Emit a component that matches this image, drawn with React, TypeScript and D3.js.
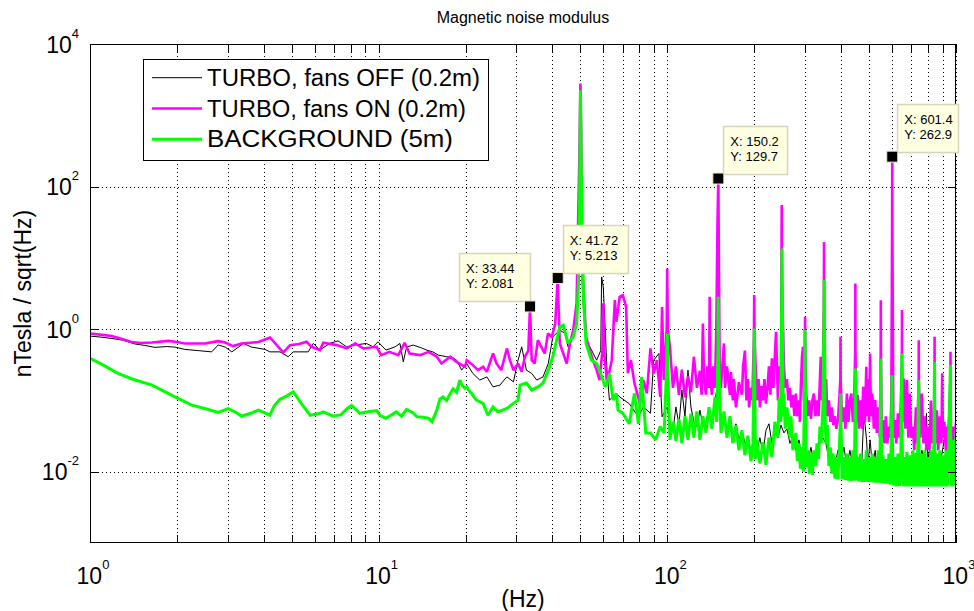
import React from "react";
import * as d3 from "d3";

// ---------- DATA ----------
const xMajorTicks = [1, 10, 100, 1000];
const xTickExponents = ["0", "1", "2", "3"];
const yMajorTicks = [1e-2, 1, 1e2, 1e4];
const yTickExponents = ["-2", "0", "2", "4"];

const seriesNames = ["TURBO, fans OFF (0.2m)", "TURBO, fans ON (0.2m)", "BACKGROUND (5m)"];
const seriesColors = ["#000000", "#ff00ff", "#00ff00"];

const offData: [number, number][] = [
  [1.0, 0.80], [1.1, 0.77], [1.19, 0.74], [1.3, 0.70], [1.43, 0.62], [1.55, 0.59], [1.68, 0.555],
  [1.85, 0.57], [1.97, 0.56], [2.13, 0.52], [2.37, 0.50], [2.64, 0.48], [2.78, 0.60], [2.94, 0.56],
  [3.10, 0.48], [3.25, 0.55], [3.40, 0.63], [3.63, 0.56], [4.04, 0.52], [4.2, 0.48], [4.55, 0.48],
  [4.86, 0.41], [5.06, 0.48], [5.33, 0.48], [5.70, 0.48], [5.94, 0.63], [6.26, 0.51], [6.77, 0.63],
  [7.23, 0.685], [7.74, 0.565], [8.3, 0.60], [9.07, 0.63], [9.56, 0.565], [9.95, 0.664], [10.6, 0.508],
  [11.4, 0.565], [11.85, 0.63], [12.17, 0.348], [12.5, 0.565], [13.18, 0.597], [14.0, 0.55], [14.67, 0.508],
  [15.4, 0.48], [16.1, 0.432], [17.2, 0.41], [18.0, 0.40], [18.63, 0.367], [19.39, 0.266], [20.17, 0.33],
  [21.2, 0.239], [22.4, 0.193], [23.7, 0.214], [24.9, 0.155], [26.3, 0.164], [27.8, 0.214], [29.3, 0.182],
  [30.4, 0.367], [31.3, 0.565], [32.5, 0.266], [33.9, 0.239], [35.3, 0.193], [37.1, 0.214], [38.7, 0.33],
  [40.1, 0.78], [42.4, 0.97], [44.2, 0.87], [45.3, 0.565], [46.6, 0.70], [47.9, 0.97], [49.2, 3.0],
  [50.0, 300], [50.8, 3.0], [52.3, 0.7], [53.9, 0.565], [56.9, 0.367], [58.8, 0.5], [59.2, 5.4], [60.0, 3.9],
  [60.8, 1.2], [61.8, 0.266], [63.0, 0.101], [66.6, 0.125], [68.4, 0.112], [73.8, 0.09], [79.4, 0.059],
  [82.6, 0.081], [87.4, 0.066], [89.7, 0.367], [93.5, 0.456], [95.9, 0.059], [99.9, 0.081],
  [102.1, 0.05], [104.6, 0.038], [107.1, 0.081], [109.7, 0.045], [112.3, 0.14], [115.1, 0.059],
  [117.9, 0.266], [120.7, 0.081], [123.6, 0.05], [126.6, 0.043], [129.7, 0.073], [132.8, 0.045],
  [136.1, 0.047], [139.4, 0.08], [142.7, 0.05], [146.2, 0.101], [149.7, 0.173], [153.4, 0.06],
  [157.1, 0.059], [160.9, 0.035], [164.8, 0.043], [168.7, 0.03], [172.9, 0.047], [177.0, 0.028],
  [181.3, 0.038], [185.7, 0.025], [190.2, 0.028], [194.8, 0.02], [199.5, 0.028], [204.3, 0.02],
  [209.3, 0.03], [214.4, 0.018], [219.6, 0.038], [224.9, 0.047], [230.3, 0.025], [235.9, 0.035],
  [241.6, 0.03], [247.5, 0.045], [253.5, 0.035], [259.6, 0.04], [265.9, 0.025], [272.3, 0.031],
  [278.9, 0.02], [285.7, 0.028], [292.6, 0.015], [299.7, 0.028], [306.9, 0.014], [314.4, 0.022],
  [322.0, 0.013], [329.8, 0.02], [337.8, 0.025], [345.9, 0.03], [354.3, 0.025], [362.9, 0.015],
  [371.7, 0.018], [380.6, 0.012], [389.9, 0.02], [399.3, 0.014], [409.0, 0.022], [418.9, 0.012],
  [429.0, 0.02], [439.4, 0.012], [450, 0.02], [460.9, 0.011], [472.1, 0.0146], [479, 0.06], [480, 0.155],
  [481, 0.06], [490, 0.028], [495.2, 0.012], [504, 0.028], [513, 0.012], [525, 0.02], [532, 0.011],
  [544.9, 0.018], [559, 0.0146], [571.6, 0.01], [582, 0.0106], [592, 0.015], [614.3, 0.012],
  [629.2, 0.016], [644.4, 0.011], [660, 0.0146], [674, 0.012], [692.3, 0.016], [709.1, 0.011],
  [726.3, 0.018], [742.5, 0.012], [761.9, 0.02], [780.3, 0.012], [790, 0.066], [799.2, 0.015],
  [810, 0.020], [828, 0.011], [848, 0.02], [868, 0.011], [890, 0.016], [914, 0.031], [933, 0.012],
  [960, 0.018], [975, 0.01], [1000, 0.02],
];

const onData: [number, number][] = [
  [1.0, 0.87], [1.1, 0.83], [1.19, 0.80], [1.3, 0.72], [1.39, 0.66], [1.5, 0.64], [1.64, 0.65],
  [1.87, 0.685], [2.0, 0.66], [2.13, 0.63], [2.5, 0.63], [2.78, 0.678], [2.94, 0.65], [3.13, 0.578],
  [3.35, 0.63], [3.83, 0.66], [3.98, 0.70], [4.2, 0.765], [4.4, 0.62], [4.67, 0.47], [4.93, 0.597],
  [5.3, 0.62], [5.63, 0.664], [5.85, 0.565], [6.26, 0.51], [6.43, 0.643], [7.16, 0.597], [7.75, 0.536],
  [8.30, 0.63], [8.84, 0.536], [9.84, 0.565], [10.2, 0.432], [10.9, 0.48], [11.7, 0.432], [12.3, 0.643],
  [12.8, 0.456], [13.9, 0.432], [14.9, 0.48], [15.9, 0.41], [16.5, 0.33], [17.7, 0.41], [18.6, 0.348],
  [19.9, 0.296], [20.2, 0.367], [21.2, 0.313], [22.1, 0.266], [23.0, 0.296], [23.7, 0.252], [24.9, 0.456],
  [25.6, 0.33], [26.6, 0.266], [27.8, 0.536], [28.5, 0.367], [29.3, 0.266], [30.4, 0.33], [31.3, 0.252],
  [32.1, 0.41], [33.0, 0.5], [33.44, 2.081], [33.9, 0.367], [34.7, 0.33], [35.6, 0.70], [36.6, 0.565],
  [37.6, 0.456], [38.6, 0.87], [39.8, 0.78], [40.9, 1.2], [41.72, 5.213], [42.4, 0.63], [43.6, 0.456],
  [44.8, 0.33], [46.0, 0.63], [47.2, 0.97], [48.5, 2.3], [49.1, 33.8], [49.6, 300], [50.0, 2800],
  [50.3, 600], [50.6, 30], [51.0, 5], [52.3, 0.78], [53.9, 0.508], [55.2, 0.367], [56.9, 0.266],
  [58.2, 0.193], [59.6, 0.5], [60.0, 2.3], [60.4, 0.5], [61.8, 0.175], [64.2, 0.367], [65.8, 2.55],
  [66.6, 1.27], [68.4, 2.84], [70.1, 3.0], [72.0, 2.05], [73.0, 0.24], [74.8, 0.367], [76.9, 0.175],
  [80.3, 0.0908], [82.6, 0.193], [84.9, 0.125], [87.4, 0.536], [89.7, 0.24], [92.0, 0.367], [94.5, 0.112],
  [95.9, 2.05], [97.2, 0.193], [99.5, 1.0], [99.9, 7.1], [100.4, 1.0], [102.1, 0.56], [104.6, 0.15],
  [107.1, 0.3], [109.7, 0.12], [112.3, 0.27], [115.1, 0.11], [117.9, 0.22], [120.7, 0.13], [123.6, 0.41],
  [126.6, 0.15], [129.7, 0.26], [131.5, 0.12], [132.8, 1.2], [134, 0.2], [136.1, 0.12], [137.5, 0.3],
  [139.4, 0.15], [140.2, 2.84], [141, 0.2], [142.7, 0.12], [144, 0.3], [146.2, 0.15], [147.8, 1.0],
  [149.2, 30], [150.2, 129.7], [151, 5], [151.8, 0.3], [153.4, 0.15], [155, 0.3], [157.1, 0.63],
  [158.5, 0.15], [160.9, 0.3], [164.8, 0.12], [166, 0.25], [168.7, 0.1], [170, 0.2], [172.9, 0.08],
  [177.0, 0.18], [181.3, 0.12], [183, 0.3], [185.7, 0.5], [188, 0.1], [190.2, 0.2], [192, 0.08],
  [194.8, 0.15], [197, 0.1], [199.5, 0.8], [200, 3.0], [200.5, 0.8], [204.3, 0.1], [207, 0.2],
  [209.3, 0.08], [212, 0.16], [214.4, 0.1], [217, 0.2], [219.6, 0.09], [222, 0.14], [224.9, 0.3],
  [227.5, 0.12], [230.3, 0.39], [233, 0.15], [238, 0.92], [241.6, 0.1], [244, 0.3], [247.5, 0.2],
  [248.5, 5], [249, 55], [249.5, 5], [253.5, 0.3], [256.5, 0.15], [259.6, 0.2], [262.5, 0.1],
  [265.9, 0.15], [269, 0.08], [272.3, 0.12], [275.5, 0.06], [278.9, 0.125], [282, 0.06], [285.7, 0.1],
  [288, 0.05], [290, 0.15], [292.6, 0.4], [295, 0.565], [297, 0.1], [299.5, 0.5], [300, 1.49],
  [300.5, 0.5], [303, 0.12], [306.9, 0.06], [310, 0.1], [314.4, 0.055], [318, 0.1], [322.0, 0.125],
  [326, 0.06], [329.8, 0.1], [334, 0.06], [337.8, 0.2], [340, 0.41], [343, 0.1], [346, 0.3],
  [348.5, 2], [349, 16.7], [349.5, 2], [352, 0.1], [355, 0.2], [358, 0.06], [362.9, 0.1], [367, 0.05],
  [371.7, 0.08], [376, 0.045], [380.6, 0.06], [385, 0.04], [389.9, 0.053], [394, 0.1], [397.5, 0.2],
  [398, 0.78], [398.5, 0.2], [403, 0.05], [409, 0.08], [414, 0.04], [418.9, 0.125], [424, 0.05],
  [429, 0.1], [434, 0.125], [439.4, 0.05], [444, 0.1], [447.5, 0.5], [448, 4.38], [448.5, 0.5],
  [452, 0.05], [456, 0.12], [460.9, 0.04], [466, 0.1], [472.1, 0.04], [477, 0.155], [483.5, 0.05],
  [489, 0.296], [492, 0.06], [495.2, 0.2], [500, 0.05], [504, 0.456], [507.2, 0.06], [513, 0.125],
  [519.4, 0.04], [525, 0.101], [532, 0.035], [538, 0.08], [544.9, 0.03], [548.5, 0.5], [549, 2.55],
  [549.5, 0.5], [553, 0.03], [558.1, 0.053], [565, 0.025], [571.6, 0.06], [578, 0.025], [585.4, 0.043],
  [592, 0.03], [597, 0.1], [600.5, 20], [601.4, 262.9], [602.3, 20], [607, 0.03], [614.3, 0.053],
  [621, 0.025], [629.2, 0.066], [637, 0.03], [644.4, 0.1], [649.5, 0.4], [650, 1.85], [650.5, 0.4],
  [655, 0.05], [660, 0.203], [668, 0.04], [676.1, 0.193], [684, 0.03], [692.3, 0.125], [700, 0.03],
  [709.1, 0.043], [717, 0.02], [726.3, 0.08], [734, 0.025], [742.5, 0.2], [743, 0.70], [743.5, 0.2],
  [752, 0.03], [761.9, 0.125], [771, 0.025], [780.3, 0.06], [790, 0.02], [799.2, 0.043], [809, 0.02],
  [818.6, 0.1], [828, 0.025], [838.4, 0.06], [842.5, 0.2], [843, 0.78], [843.5, 0.2], [848, 0.025],
  [858.7, 0.073], [868, 0.02], [879.5, 0.06], [890, 0.025], [896, 0.24], [900.6, 0.03], [911, 0.05],
  [922.5, 0.02], [929, 0.043], [933, 0.02], [944.9, 0.05], [956.5, 0.2], [957, 0.48], [957.5, 0.2],
  [962, 0.02], [967.8, 0.043], [975, 0.02], [986, 0.043], [991.3, 0.02], [1000, 0.05],
];

const bgData: [number, number][] = [
  [1.0, 0.39], [1.1, 0.32], [1.25, 0.24], [1.4, 0.20], [1.64, 0.164], [1.8, 0.135], [1.97, 0.112],
  [2.25, 0.086], [2.5, 0.0772], [2.78, 0.068], [3.01, 0.077], [3.2, 0.068], [3.35, 0.060], [3.6, 0.066],
  [3.83, 0.073], [4.0, 0.068], [4.2, 0.062], [4.35, 0.085], [4.55, 0.104], [4.8, 0.115], [5.06, 0.132],
  [5.4, 0.09], [5.79, 0.062], [6.26, 0.066], [6.43, 0.069], [6.96, 0.060], [7.4, 0.063], [7.75, 0.076],
  [8.06, 0.085], [8.6, 0.066], [9.07, 0.069], [9.84, 0.072], [10.1, 0.062], [10.6, 0.056], [11.5, 0.069],
  [12.0, 0.06], [12.5, 0.075], [13.1, 0.068], [13.6, 0.059], [14.3, 0.058], [14.9, 0.056], [15.3, 0.050],
  [15.9, 0.073], [16.3, 0.105], [16.7, 0.112], [17.2, 0.10], [17.7, 0.125], [18.1, 0.145], [18.6, 0.13],
  [19.1, 0.193], [19.5, 0.16], [19.9, 0.148], [20.2, 0.155], [20.7, 0.132], [21.0, 0.125], [21.8, 0.101],
  [23.0, 0.091], [23.9, 0.062], [24.9, 0.081], [25.9, 0.069], [27.8, 0.077], [29.3, 0.091], [30.4, 0.101],
  [30.9, 0.164], [32.5, 0.175], [33.9, 0.14], [35.6, 0.155], [37.1, 0.175], [38.7, 0.266], [40.1, 0.41],
  [42.4, 1.08], [43.6, 1.14], [45.3, 0.63], [47.2, 0.78], [48.5, 1.2], [49.2, 4.38], [49.7, 80],
  [50.0, 2250], [50.3, 200], [50.7, 19.7], [51.3, 2.3], [52.3, 0.63], [54.6, 0.367], [56.9, 0.33],
  [58.2, 0.266], [60.9, 0.155], [62.3, 0.193], [63.0, 0.24], [64.9, 0.101], [66.6, 0.125], [67.5, 0.073],
  [70.1, 0.066], [73.8, 0.047], [76.9, 0.125], [79.4, 0.047], [81.5, 0.214], [84.2, 0.035], [87.4, 0.035],
  [91.1, 0.028], [94.5, 0.043], [97.5, 0.035], [99.5, 0.3], [100, 0.87], [100.5, 0.2], [102.1, 0.028],
  [104.6, 0.05], [107.1, 0.027], [109.7, 0.055], [112.3, 0.025], [115.1, 0.06], [117.9, 0.028],
  [120.7, 0.065], [123.6, 0.03], [126.6, 0.07], [129.7, 0.028], [132.8, 0.06], [136.1, 0.035],
  [139.4, 0.08], [142.7, 0.04], [146.2, 0.112], [148.4, 0.05], [149.7, 0.5], [150.0, 2.84], [150.4, 0.5],
  [151.5, 0.155], [153.4, 0.035], [157.1, 0.07], [160.9, 0.03], [164.8, 0.06], [168.7, 0.025],
  [172.9, 0.045], [177.0, 0.02], [181.3, 0.038], [185.7, 0.017], [190.2, 0.032], [194.8, 0.014],
  [198, 0.025], [199.5, 0.3], [200, 1.02], [200.5, 0.3], [202, 0.015], [204.3, 0.028], [209.3, 0.013],
  [214.4, 0.026], [219.6, 0.0125], [224.9, 0.03], [230.3, 0.016], [235.9, 0.05], [241.6, 0.03],
  [244, 0.11], [247.5, 0.05], [249, 3], [249.6, 13.5], [250.3, 3], [252, 0.06], [253.5, 0.125],
  [256, 0.04], [259.6, 0.08], [265.9, 0.03], [268, 0.06], [272.3, 0.02], [278.9, 0.035], [282, 0.014],
  [285.7, 0.025], [289, 0.011], [292.6, 0.022], [296, 0.01], [299.2, 0.3], [299.7, 0.97], [300.3, 0.3],
  [303, 0.0117], [306.9, 0.02], [310, 0.0094], [314.4, 0.018], [318, 0.009], [322.0, 0.02], [326, 0.012],
  [329.8, 0.025], [334, 0.015], [337.8, 0.043], [341, 0.025], [345.9, 0.08], [348.5, 1], [349.5, 4.87],
  [350.5, 1], [352, 0.06], [354.3, 0.025], [358, 0.045], [362.9, 0.012], [367, 0.022], [371.7, 0.0094],
  [375, 0.018], [380.6, 0.008], [385, 0.016], [389.9, 0.0078], [394, 0.02], [397.5, 0.05], [398.5, 0.125],
  [399.5, 0.05], [403, 0.0078], [409.0, 0.016], [414, 0.0076], [418.9, 0.018], [424, 0.0075],
  [429.0, 0.016], [434, 0.0074], [439.4, 0.02], [444, 0.0075], [447.5, 0.08], [448.5, 0.28], [449.5, 0.08],
  [452, 0.0076], [456, 0.016], [460.9, 0.0073], [466, 0.018], [472.1, 0.0072], [477, 0.015],
  [483.5, 0.0072], [489, 0.02], [495.2, 0.0072], [500, 0.016], [507.2, 0.0072], [513, 0.018],
  [519.4, 0.007], [525, 0.016], [532.0, 0.007], [538, 0.02], [544.9, 0.007], [548.5, 0.388], [549.5, 0.1],
  [553, 0.0069], [558.1, 0.017], [565, 0.0068], [571.6, 0.015], [578, 0.0068], [585.4, 0.018],
  [592, 0.0066], [597, 0.03], [600.5, 0.226], [602, 0.03], [607, 0.0064], [614.3, 0.016], [621, 0.0062],
  [629.2, 0.018], [637, 0.0063], [644.4, 0.02], [649.5, 0.456], [651, 0.03], [655, 0.0063], [660.0, 0.016],
  [668, 0.0062], [676.1, 0.019], [684, 0.0062], [692.3, 0.017], [700, 0.0062], [709.1, 0.02], [717, 0.0062],
  [726.3, 0.018], [734, 0.0062], [742.5, 0.193], [744.5, 0.02], [752, 0.0062], [761.9, 0.018],
  [771, 0.0062], [780.3, 0.02], [790, 0.0062], [799.2, 0.016], [809, 0.0062], [818.6, 0.02], [828, 0.0062],
  [838.4, 0.025], [842.5, 0.348], [844, 0.025], [848, 0.0062], [858.7, 0.018], [868, 0.0062],
  [879.5, 0.02], [890, 0.0062], [900.6, 0.017], [911, 0.0062], [922.5, 0.02], [933, 0.0062],
  [944.9, 0.03], [956.5, 0.313], [958, 0.02], [962, 0.0062], [967.8, 0.025], [975, 0.0062], [982, 0.028],
  [991.3, 0.0065], [1000, 0.035],
];

const tipX = [33.44, 41.72, 150.2, 601.4];
const tipY = [2.081, 5.213, 129.7, 262.9];
const tipXLabels = ["33.44", "41.72", "150.2", "601.4"];
const tipYLabels = ["2.081", "5.213", "129.7", "262.9"];
const tipSide = ["left", "right", "right", "right"];

// ---------- LAYOUT / STYLE ----------
const W = 974;
const H = 611;
const L = 90, R = 956, T = 44, B = 543;
const FONT = "'Liberation Sans', Arial, Helvetica, sans-serif";
const tipBoxWidths = [71, 65, 64, 61];

export default function App() {
  const x = d3.scaleLog().domain([1, 1000]).range([L, R]);
  const y = d3.scaleLog().domain([1e-3, 1e4]).range([B, T]);
  const line = d3
    .line<[number, number]>()
    .x((d) => x(d[0]))
    .y((d) => y(d[1]));

  const xMinor: number[] = [];
  xMajorTicks.slice(0, -1).forEach((m) => {
    for (let k = 2; k <= 9; k++) xMinor.push(m * k);
  });
  const xAll = [...xMajorTicks, ...xMinor];
  const tick = 8;

  const series = [offData, onData, bgData];
  const widths = [1, 2.6, 3];

  return (
    <svg
      width={W}
      height={H}
      style={{ position: "absolute", left: 0, top: 0, background: "#fff" }}
      fontFamily={FONT}
    >
      <rect x={0} y={0} width={W} height={H} fill="#fff" />
      <defs>
        <clipPath id="plotclip">
          <rect x={L} y={T} width={R - L} height={B - T} />
        </clipPath>
      </defs>

      {/* grid */}
      <g stroke="#000" strokeWidth={1} strokeDasharray="1 3" fill="none">
        {xAll.map((v, i) => (
          <line key={"gx" + i} x1={Math.round(x(v)) + 0.5} x2={Math.round(x(v)) + 0.5} y1={T} y2={B} />
        ))}
        {yMajorTicks.map((v, i) => (
          <line key={"gy" + i} x1={L} x2={R} y1={Math.round(y(v)) + 0.5} y2={Math.round(y(v)) + 0.5} />
        ))}
      </g>

      {/* series */}
      <g clipPath="url(#plotclip)" fill="none" strokeLinejoin="miter" strokeMiterlimit={2}>
        {series.map((s, i) => (
          <path key={"s" + i} d={line(s) || ""} stroke={seriesColors[i]} strokeWidth={widths[i]} />
        ))}
      </g>

      {/* axes box and ticks */}
      <g stroke="#000" strokeWidth={1}>
        <rect x={L + 0.5} y={T + 0.5} width={R - L - 1} height={B - T - 1} fill="none" />
        {xAll.map((v, i) => {
          const px = Math.round(x(v)) + 0.5;
          return (
            <g key={"tx" + i}>
              <line x1={px} x2={px} y1={B} y2={B - tick} />
              <line x1={px} x2={px} y1={T} y2={T + tick} />
            </g>
          );
        })}
        {yMajorTicks.map((v, i) => {
          const py = Math.round(y(v)) + 0.5;
          return (
            <g key={"ty" + i}>
              <line x1={L} x2={L + tick} y1={py} y2={py} />
              <line x1={R} x2={R - tick} y1={py} y2={py} />
            </g>
          );
        })}
      </g>

      {/* tick labels */}
      <g fill="#000">
        {yMajorTicks.map((v, i) => (
          <text key={"yl" + i} x={79} y={y(v) + 8.5} textAnchor="end" fontSize={23}>
            10
            <tspan fontSize={13} dy={-15}>{yTickExponents[i]}</tspan>
          </text>
        ))}
        {xMajorTicks.map((v, i) => (
          <text key={"xl" + i} x={x(v) + 3} y={584} textAnchor="middle" fontSize={23}>
            10
            <tspan fontSize={13} dy={-15}>{xTickExponents[i]}</tspan>
          </text>
        ))}
      </g>

      {/* titles */}
      <text x={(L + R) / 2} y={23} textAnchor="middle" fontSize={16}>
        Magnetic noise modulus
      </text>
      <text x={(L + R) / 2} y={607} textAnchor="middle" fontSize={23}>
        (Hz)
      </text>
      <text
        transform={`translate(31, ${(T + B) / 2}) rotate(-90)`}
        textAnchor="middle"
        fontSize={23}
      >
        nTesla / sqrt(Hz)
      </text>

      {/* legend */}
      <g>
        <rect x={143.5} y={59.5} width={345} height={101} fill="#fff" stroke="#000" strokeWidth={1} />
        {seriesNames.map((name, i) => {
          const cy = 77.7 + i * 30.8;
          const lens = [273, 259, 246];
          return (
            <g key={"lg" + i}>
              <line x1={152} x2={202} y1={cy} y2={cy} stroke={seriesColors[i]} strokeWidth={widths[i]} />
              <text x={207} y={cy + 8} fontSize={23} textLength={lens[i]} lengthAdjust="spacingAndGlyphs">
                {name}
              </text>
            </g>
          );
        })}
      </g>

      {/* data tips */}
      {tipX.map((tx, i) => {
        const px = x(tx);
        const py = y(tipY[i]);
        const bw = tipBoxWidths[i];
        const bh = 48;
        const bx = tipSide[i] === "left" ? px - bw : px + 5;
        const by = py - 5 - bh;
        return (
          <g key={"tip" + i}>
            <rect x={Math.round(bx) + 0.5} y={Math.round(by) + 0.5} width={bw} height={bh} fill="#ffffe1" stroke="#d8d4c0" strokeWidth={1.5} />
            <text x={bx + 7} y={by + 20} fontSize={13} fill="#000">
              X: {tipXLabels[i]}
            </text>
            <text x={bx + 7} y={by + 35} fontSize={13} fill="#000">
              Y: {tipYLabels[i]}
            </text>
            <rect x={px - 5.5} y={py - 5.5} width={11} height={11} fill="#000" stroke="#f2ecc0" strokeWidth={1} />
          </g>
        );
      })}
    </svg>
  );
}
